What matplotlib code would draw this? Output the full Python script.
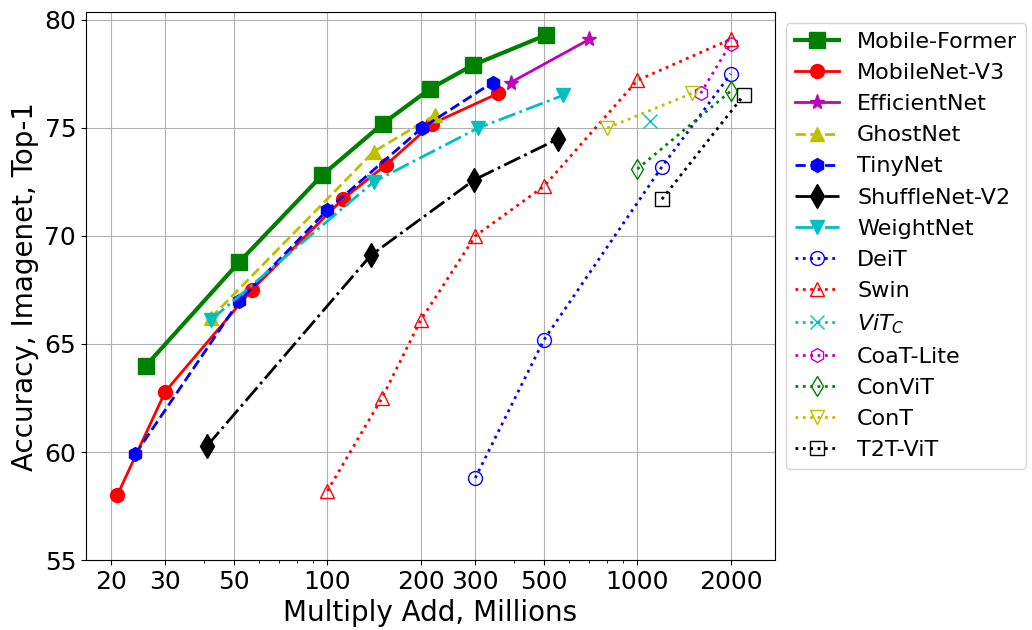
import numpy as np
import matplotlib.pyplot as plt
from matplotlib.ticker import NullFormatter

# Multiply-adds (millions) and top-1 accuracy for each model family
mf_x = [26, 52, 96, 151, 214, 294, 508]
mf_y = [64.0, 68.8, 72.8, 75.2, 76.8, 77.9, 79.3]

mnv3_x = [21, 30, 57, 112, 155, 218, 356]
mnv3_y = [58.0, 62.8, 67.5, 71.7, 73.3, 75.2, 76.6]

effnet_x = [390, 700]
effnet_y = [77.1, 79.1]

ghost_x = [42, 141, 223]
ghost_y = [66.2, 73.9, 75.6]

tiny_x = [24, 52, 100, 202, 341]
tiny_y = [59.9, 67.0, 71.2, 75.0, 77.1]

shuffle_x = [41, 138, 298, 556]
shuffle_y = [60.3, 69.1, 72.6, 74.5]

weight_x = [42, 141, 307, 574]
weight_y = [66.1, 72.5, 75.0, 76.5]

deit_x = [300, 500, 1200, 2000]
deit_y = [58.8, 65.2, 73.2, 77.5]

swin_x = [100, 150, 200, 300, 500, 1000, 2000]
swin_y = [58.2, 62.5, 66.1, 70.0, 72.3, 77.2, 79.1]

vitc_x = [1100]
vitc_y = [75.3]

coat_x = [1600, 2000]
coat_y = [76.6, 78.9]

convit_x = [1000, 2000]
convit_y = [73.1, 76.7]

cont_x = [800, 1500]
cont_y = [75.0, 76.6]

t2t_x = [1200, 2200]
t2t_y = [71.7, 76.5]

xticks = [20, 30, 50, 100, 200, 300, 500, 1000, 2000]

fig = plt.figure(figsize=(10.32, 6.3), dpi=100)
ax = fig.add_axes([0.0833, 0.111, 0.6675, 0.870])

ax.plot(mf_x, mf_y, 'g-', marker='s', lw=3, ms=11, label='Mobile-Former')
ax.plot(mnv3_x, mnv3_y, 'r-', marker='o', lw=2, ms=10, label='MobileNet-V3')
ax.plot(effnet_x, effnet_y, 'm-', marker='*', lw=2, ms=11, label='EfficientNet')
ax.plot(ghost_x, ghost_y, 'y--', marker='^', lw=2, ms=10, label='GhostNet')
ax.plot(tiny_x, tiny_y, 'b--', marker='h', lw=2, ms=10, label='TinyNet')
ax.plot(shuffle_x, shuffle_y, 'k-.', marker='d', lw=2, ms=12, label='ShuffleNet-V2')
ax.plot(weight_x, weight_y, 'c-.', marker='v', lw=2, ms=10, label='WeightNet')

hollow = dict(lw=2, ms=10, markerfacecolor='none')
ax.plot(deit_x, deit_y, 'b:', marker='o', label='DeiT', **hollow)
ax.plot(swin_x, swin_y, 'r:', marker='^', label='Swin', **hollow)
ax.plot(vitc_x, vitc_y, 'c:', marker='x', label='$ViT_C$', **hollow)
ax.plot(coat_x, coat_y, 'm:', marker='h', label='CoaT-Lite', **hollow)
ax.plot(convit_x, convit_y, 'g:', marker='d', label='ConViT', **hollow)
ax.plot(cont_x, cont_y, 'y:', marker='v', label='ConT', **hollow)
ax.plot(t2t_x, t2t_y, 'k:', marker='s', label='T2T-ViT', **hollow)

ax.set_xscale('log')
ax.set_xticks(xticks)
ax.set_xticklabels([str(v) for v in xticks])
ax.xaxis.set_minor_formatter(NullFormatter())
ax.set_ylim(bottom=55)
ax.tick_params(labelsize=18)
ax.grid(True)

ax.set_xlabel('Multiply Add, Millions', fontsize=20)
ax.set_ylabel('Accuracy, Imagenet, Top-1', fontsize=20)
ax.legend(loc='upper left', bbox_to_anchor=(1.0, 1.0), fontsize=16)

fig.savefig('out.png', dpi=100)
